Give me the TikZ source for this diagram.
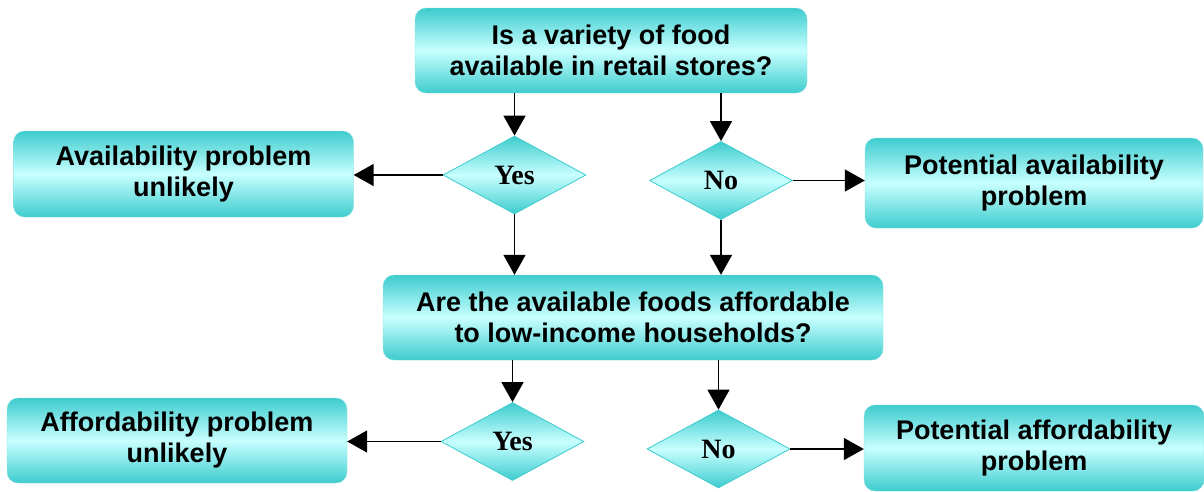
\documentclass[tikz,border=0pt]{standalone}
\usepackage{fontspec}
\setmainfont{Liberation Sans}
\newfontfamily\timesf{Liberation Serif}
\usetikzlibrary{shapes.geometric,arrows.meta}
\definecolor{tealc}{RGB}{62,204,206}
\definecolor{lightc}{RGB}{200,255,255}
\tikzset{
  qbox/.style={rectangle, rounded corners=11pt, top color=tealc, bottom color=tealc, middle color=lightc,
    draw=tealc!60, line width=0.4pt, align=center, inner sep=0pt,
    font=\fontsize{27}{31}\selectfont\bfseries},
  dia/.style={diamond, top color=tealc, bottom color=tealc, middle color=lightc, draw=tealc, line width=0.8pt,
    inner sep=0pt, minimum width=143pt, minimum height=78pt, aspect=1.83,
    font=\timesf\fontsize{28}{30}\selectfont\bfseries},
  arr/.style={line width=1.6pt, -{Triangle[length=20pt,width=22pt]}}
}
\begin{document}
\begin{tikzpicture}[x=1pt,y=-1pt]
\useasboundingbox (0,0) rectangle (1204,491);
\node[qbox, minimum width=392pt, minimum height=85pt] (top) at (611,50.5) {Is a variety of food\\available in retail stores?};
\node[qbox, minimum width=340pt, minimum height=86pt] (left1) at (183.5,174) {Availability problem\\unlikely};
\node[qbox, minimum width=338pt, minimum height=90pt] (right1) at (1034,183) {Potential availability\\problem};
\node[qbox, minimum width=500pt, minimum height=85pt] (mid) at (633,317.5) {Are the available foods affordable\\to low-income households?};
\node[qbox, minimum width=340pt, minimum height=85pt] (left2) at (177,440.5) {Affordability problem\\unlikely};
\node[qbox, minimum width=340pt, minimum height=86pt] (right2) at (1034,448) {Potential affordability\\problem};
\node[dia] (yes1) at (514.5,175) {Yes};
\node[dia] (no1) at (721,180.5) {No};
\node[dia] (yes2) at (512.5,441.5) {Yes};
\node[dia] (no2) at (718.5,449) {No};
\draw[arr] (top.south -| yes1.north) -- (yes1.north);
\draw[arr] (top.south -| no1.north) -- (no1.north);
\draw[arr] (yes1.west) -- (left1.east |- yes1.west);
\draw[arr] (no1.east) -- (right1.west |- no1.east);
\draw[arr] (yes1.south) -- (mid.north -| yes1.south);
\draw[arr] (no1.south) -- (mid.north -| no1.south);
\draw[arr] (mid.south -| yes2.north) -- (yes2.north);
\draw[arr] (mid.south -| no2.north) -- (no2.north);
\draw[arr] (yes2.west) -- (left2.east |- yes2.west);
\draw[arr] (no2.east) -- (right2.west |- no2.east);
\end{tikzpicture}
\end{document}
